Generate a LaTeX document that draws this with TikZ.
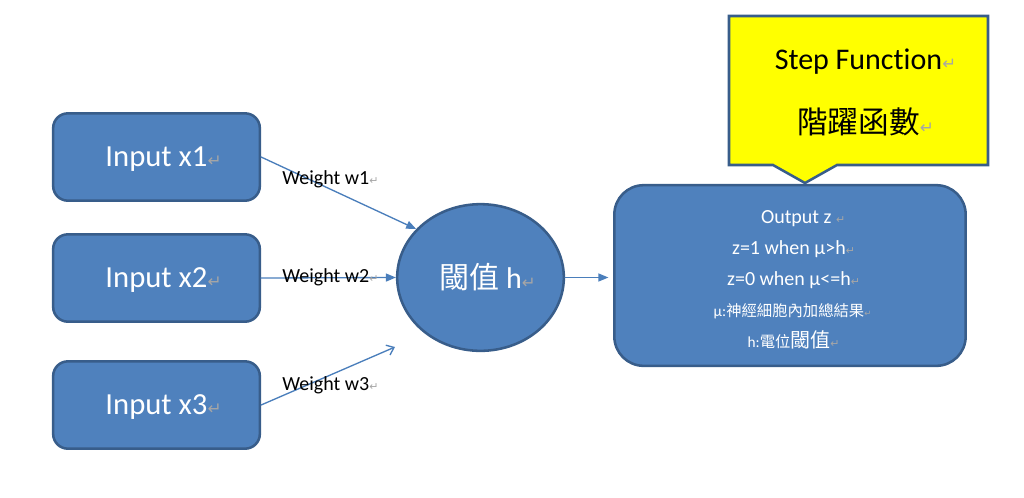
\documentclass[tikz,border=0pt]{standalone}
\usepackage{fontspec}
\setmainfont[Ligatures=NoCommon]{Carlito}
\newfontfamily\cjk{Noto Sans CJK TC}
\newfontfamily\markfont{DejaVu Sans}
\usepackage{xcolor}
\usetikzlibrary{arrows.meta}
\usetikzlibrary{shapes.geometric}
\definecolor{boxblue}{HTML}{4F81BD}
\definecolor{boxline}{HTML}{385D8A}
\definecolor{wireblue}{HTML}{4A7EBB}
\definecolor{markgray}{HTML}{A6A6A6}
\definecolor{stepyellow}{HTML}{FFFF00}
\makeatletter
\newcommand\pmark[1][]{\rlap{#1\textcolor{markgray}{\markfont\fontsize{\fpeval{0.55*\f@size}}{0}\selectfont\char"21B5}}}
\makeatother

\begin{document}
\begin{tikzpicture}[x=0.75pt, y=-0.75pt, line cap=round, line join=round,
  inbox/.style={draw=boxline, line width=1.9pt, fill=boxblue, rounded corners=11pt,
    minimum width=155pt, minimum height=65.5pt, inner sep=0pt, text=white,
    text depth=0pt, font=\fontsize{23}{28}\selectfont},
  thrnode/.style={ellipse, draw=boxline, line width=1.9pt, fill=boxblue,
    minimum width=125pt, minimum height=110pt, inner sep=0pt, text=white,
    font=\fontsize{22.5}{27}\selectfont},
  outbox/.style={draw=boxline, line width=1.9pt, fill=boxblue, rounded corners=22pt,
    minimum width=263.5pt, minimum height=135.5pt},
  outtext/.style={align=center, inner sep=0pt, text=white,
    font=\fontsize{15}{23.25}\selectfont},
  wlabel/.style={anchor=base west, inner sep=0pt, font=\fontsize{15}{18}\selectfont},
  wire/.style={draw=wireblue, line width=1pt, -{Triangle[length=7.5pt, width=6pt]}},
  openwire/.style={draw=wireblue, line width=1pt, -{Straight Barb[length=5pt, width=8pt]}},
  stepcallout/.style={draw=boxline, line width=1.9pt, fill=stepyellow, line join=miter},
  steptext/.style={anchor=base, inner sep=0pt, font=\fontsize{22.5}{27}\selectfont}]
  \useasboundingbox (0,0) rectangle (1024,497);
  %--- Inputs
  \node[inbox] (in1) at (156.5,157) {Input x1\pmark};
  \node[inbox] (in2) at (156.5,278) {Input x2\pmark};
  \node[inbox] (in3) at (156.5,405) {Input x3\pmark};
  %--- Threshold
  \node[thrnode] (thr) at (480.5,277.5) {{\cjk 閾值} h\pmark};
  %--- Output
  \node[outbox] (out) at (790,275.5) {};
  \node[outtext] (outtxt) at (789,280) {\hspace*{11pt}Output z\pmark[\ ]\\
    z=1 when μ>h\pmark\\
    z=0 when μ<=h\pmark\\
    {\fontsize{11.5}{23.25}\selectfont μ:{\cjk 神經細胞內加總結果}\pmark}\\
    {\fontsize{11.5}{23.25}\selectfont h:{\cjk 電位}}{\cjk 閾值}\pmark};
  %--- Weights
  \coordinate (w3end) at (395,347);
  \draw[wire] (in1.east) -- (thr.143);
  \draw[wire] (in2.east) -- (thr.west);
  \draw[openwire] (in3.east) -- (w3end);
  \draw[wire, shorten >=3.5pt] (thr.east) -- (thr.east -| out.west);
  \node[wlabel] (lw1) at (282,184) {Weight w1\pmark};
  \node[wlabel] (lw2) at (282,282) {Weight w2\pmark};
  \node[wlabel] (lw3) at (282,390) {Weight w3\pmark};
  %--- Step function callout
  \draw[stepcallout] (729,16) -- (988,16) -- (988,165) -- (837,165) -- (805,183)
    -- (773,165) -- (729,165) -- cycle;
  \node[steptext] (stepen) at (858.5,69) {Step Function\pmark};
  \node[steptext, font=\fontsize{23}{28}\selectfont] (stepzh) at (858.5,133) {{\cjk 階躍函數}\pmark};
\end{tikzpicture}
\end{document}
